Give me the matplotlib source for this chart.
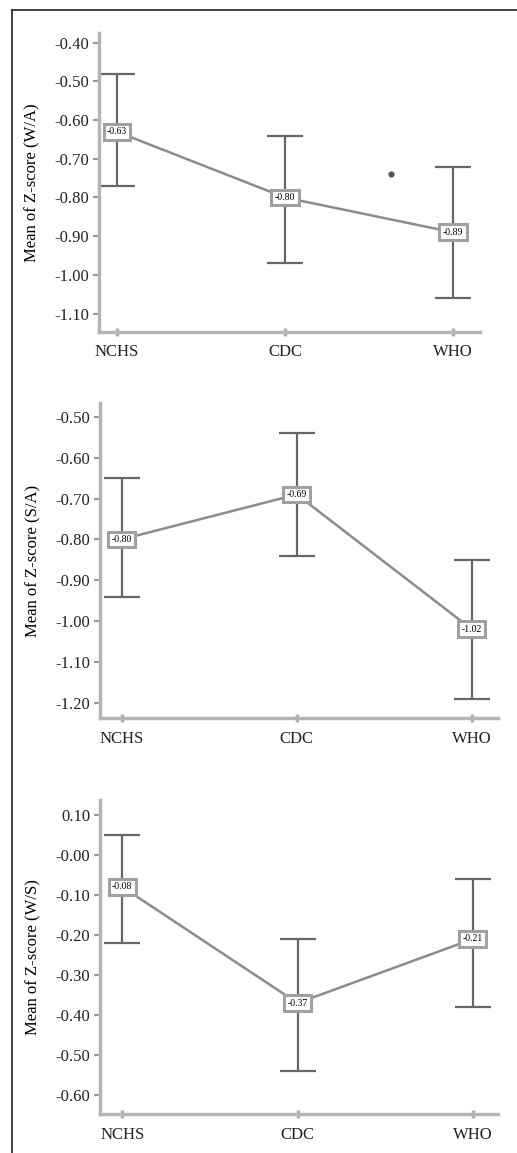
import matplotlib.pyplot as plt
from matplotlib.lines import Line2D

plt.rcParams['font.family'] = ['Liberation Serif', 'DejaVu Serif']

# data
refs = ["NCHS", "CDC", "WHO"]

wa_mean = [-0.63, -0.80, -0.89]
wa_upper = [-0.48, -0.64, -0.72]
wa_lower = [-0.77, -0.97, -1.06]
wa_outlier = (1.63, -0.74)

sa_mean = [-0.80, -0.69, -1.02]
sa_upper = [-0.65, -0.54, -0.85]
sa_lower = [-0.94, -0.84, -1.19]

ws_mean = [-0.08, -0.37, -0.21]
ws_upper = [0.05, -0.21, -0.06]
ws_lower = [-0.22, -0.54, -0.38]

wa_ticks = [-0.40, -0.50, -0.60, -0.70, -0.80, -0.90, -1.00, -1.10]
sa_ticks = [-0.50, -0.60, -0.70, -0.80, -0.90, -1.00, -1.10, -1.20]
ws_ticks = [0.10, 0.00, -0.10, -0.20, -0.30, -0.40, -0.50, -0.60]


def fmt(v):
    if abs(v) < 1e-9:
        return "-0.00"
    return "%.2f" % v


def panel(ax, mean, upper, lower, ticks, ylim, ylabel, xlim):
    x = list(range(len(refs)))
    lo_err = [m - l for m, l in zip(mean, lower)]
    up_err = [u - m for m, u in zip(mean, upper)]
    ax.errorbar(x, mean, yerr=[lo_err, up_err], fmt='none', ecolor='#666666',
                elinewidth=1.6, capsize=13, capthick=1.6, zorder=2)
    ax.plot(x, mean, color='#8c8c8c', lw=1.8, zorder=3)
    for xi, m in zip(x, mean):
        ax.text(xi, m, fmt(m), fontsize=7, ha='center', va='center', zorder=4,
                bbox=dict(boxstyle='square,pad=0.35', fc='white', ec='#a0a0a0', lw=2.2))
    ax.set_xlim(*xlim)
    ax.set_ylim(*ylim)
    ax.set_xticks(x)
    ax.set_xticklabels(refs, fontsize=12)
    ax.set_yticks(ticks)
    ax.set_yticklabels([fmt(t) for t in ticks], fontsize=12)
    ax.set_ylabel(ylabel, fontsize=12, labelpad=10)
    for s in ['top', 'right']:
        ax.spines[s].set_visible(False)
    for s in ['left', 'bottom']:
        ax.spines[s].set_color('#b5b5b5')
        ax.spines[s].set_linewidth(2.5)
    ax.tick_params(axis='y', colors='#999999', length=4, width=1.5, labelcolor='#222222', pad=3)
    ax.tick_params(axis='x', colors='#b0b0b0', length=6, width=2.5, direction='inout',
                   labelcolor='#222222', pad=6)


fig = plt.figure(figsize=(5.17, 11.53), dpi=100)

ax1 = fig.add_axes([0.1915, 0.7123, 0.737, 0.259])
panel(ax1, wa_mean, wa_upper, wa_lower, wa_ticks, (-1.147, -0.375),
      "Mean of Z-score (W/A)", (-0.107, 2.161))
ax1.plot(*wa_outlier, 'o', color='#555555', ms=3.5, zorder=3)

ax2 = fig.add_axes([0.1934, 0.377, 0.770, 0.2735])
panel(ax2, sa_mean, sa_upper, sa_lower, sa_ticks, (-1.238, -0.466),
      "Mean of Z-score (S/A)", (-0.124, 2.15))

ax3 = fig.add_axes([0.1934, 0.0338, 0.770, 0.272])
panel(ax3, ws_mean, ws_upper, ws_lower, ws_ticks, (-0.647, 0.136),
      "Mean of Z-score (W/S)", (-0.127, 2.144))

# outer frame (left and top edges)
fig.add_artist(Line2D([12 / 517, 12 / 517], [0, 1 - 10 / 1153], color='#222222', lw=1.2,
                      transform=fig.transFigure))
fig.add_artist(Line2D([12 / 517, 1], [1 - 10 / 1153, 1 - 10 / 1153], color='#222222', lw=1.2,
                      transform=fig.transFigure))

fig.savefig("out.png", dpi=100)
